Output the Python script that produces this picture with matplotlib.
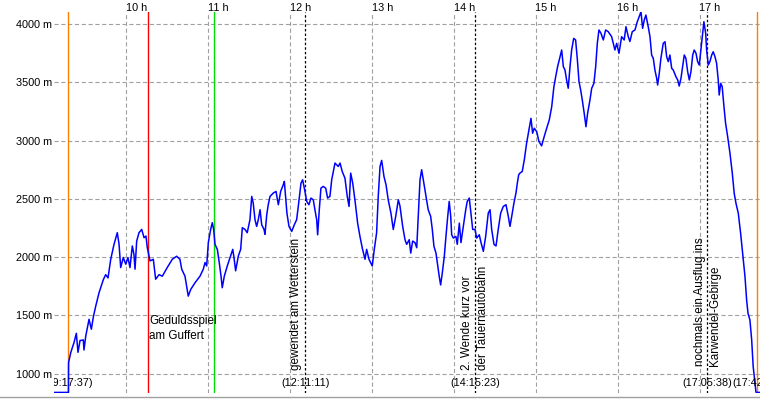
import matplotlib
matplotlib.use("Agg")
import matplotlib.pyplot as plt
from matplotlib.lines import Line2D
import matplotlib.transforms as mtransforms

plt.rcParams['font.family'] = ['Liberation Sans', 'DejaVu Sans']
plt.rcParams['lines.scale_dashes'] = False

# ---- data: minutes after 09:00 and altitude in metres ----
minutes = [
    7.0, 17.6, 17.7, 19.3, 21.7, 23.4, 24.6, 26.1, 28.5, 29.0,
    30.3, 32.7, 34.4, 35.8, 37.6, 40.0, 43.2, 44.9, 46.6, 48.6,
    51.0, 53.4, 54.7, 55.9, 57.8, 59.6, 61.2, 62.7, 64.4, 65.6,
    66.4, 67.6, 69.3, 71.3, 73.0, 74.4, 75.4, 77.4, 79.8, 81.5,
    84.0, 86.4, 90.0, 93.7, 96.9, 99.3, 100.6, 103.0, 104.2, 105.4,
    107.2, 110.3, 114.0, 116.4, 117.7, 118.9, 120.1, 121.8, 123.0, 124.0,
    125.0, 126.7, 128.1, 129.4, 130.3, 131.8, 134.0, 136.0, 138.0, 138.9,
    140.1, 142.1, 143.8, 145.0, 147.0, 148.6, 150.6, 151.9, 153.0, 154.3,
    155.5, 156.7, 158.0, 159.2, 160.9, 161.6, 162.9, 164.0, 165.3, 167.7,
    169.7, 171.4, 173.1, 175.0, 175.8, 176.6, 177.7, 179.2, 181.2, 183.1,
    184.8, 186.0, 188.0, 189.2, 190.9, 192.2, 193.8, 195.3, 197.0, 198.2,
    199.5, 200.2, 201.4, 202.6, 204.3, 206.1, 207.5, 209.2, 210.5, 212.9,
    215.3, 216.6, 218.2, 220.2, 221.9, 223.2, 224.4, 225.9, 227.5, 229.5,
    231.2, 232.9, 234.9, 236.1, 237.8, 240.2, 241.7, 243.4, 244.6, 245.9,
    247.1, 248.8, 250.3, 251.9, 253.9, 255.6, 257.4, 259.3, 260.5, 262.5,
    264.2, 265.4, 267.3, 268.4, 269.8, 271.5, 272.8, 273.9, 275.2, 276.4,
    277.6, 279.6, 281.2, 283.0, 284.2, 285.4, 286.9, 288.1, 289.3, 290.3,
    291.5, 293.0, 294.2, 295.5, 296.6, 297.7, 298.4, 299.6, 301.5, 302.5,
    304.0, 305.2, 306.9, 308.7, 309.8, 311.3, 312.5, 313.8, 315.5, 316.7,
    318.6, 319.9, 321.6, 323.3, 325.2, 326.5, 327.7, 329.4, 330.9, 332.5,
    334.3, 336.2, 338.2, 339.9, 341.1, 342.4, 344.0, 345.5, 346.5, 347.5,
    348.4, 350.1, 351.6, 353.3, 355.0, 356.5, 357.7, 358.9, 360.7, 362.3,
    364.3, 366.2, 368.0, 369.9, 371.7, 373.3, 374.6, 376.0, 377.2, 379.0,
    380.2, 381.4, 382.6, 383.8, 385.1, 386.3, 387.8, 389.2, 390.4, 391.7,
    392.9, 394.1, 395.5, 396.8, 398.0, 399.7, 401.0, 402.6, 403.9, 405.1,
    406.3, 407.8, 409.5, 411.2, 413.1, 415.6, 418.0, 419.3, 421.0, 422.9,
    424.8, 426.1, 427.8, 429.0, 430.7, 432.7, 434.4, 435.8, 437.1, 438.3,
    439.5, 440.7, 442.4, 443.7, 444.9, 446.1, 447.3, 448.6, 449.3, 450.5,
    451.7, 453.4, 454.7, 455.9, 457.1, 458.3, 459.6, 460.7, 462.7, 464.0,
    465.1, 466.4, 467.6, 468.8, 470.0, 471.3, 472.5, 473.7, 475.0, 476.1,
    477.4, 478.6, 479.8, 481.0, 482.3, 483.2, 484.5, 485.2, 486.4, 487.6,
    488.9, 490.0, 491.3, 492.5, 493.7, 494.4, 495.5, 496.6, 497.9, 499.1,
    500.6, 502.3, 504.0, 505.4, 506.7, 508.4, 510.1, 511.6, 513.3, 514.5,
    515.5, 516.9, 518.2, 519.3, 520.6, 521.3, 521.5, 524.3,
]
altitude = [
    840, 840, 1095, 1182, 1268, 1347, 1184, 1285, 1290, 1204,
    1324, 1467, 1382, 1484, 1580, 1694, 1808, 1850, 1822, 1982,
    2110, 2210, 2110, 1911, 1997, 1940, 1997, 1911, 2096, 2025,
    1897, 2137, 2210, 2238, 2167, 2181, 2081, 1968, 1982, 1811,
    1850, 1837, 1911, 1982, 2008, 1982, 1897, 1837, 1752, 1666,
    1723, 1780, 1837, 1897, 1954, 1925, 2125, 2238, 2296, 2238,
    2110, 2067, 1954, 1837, 1738, 1837, 1925, 1997, 2067, 1997,
    1883, 2011, 2067, 2253, 2238, 2210, 2321, 2521, 2464, 2321,
    2264, 2321, 2407, 2278, 2238, 2196, 2364, 2450, 2521, 2550,
    2564, 2450, 2564, 2621, 2650, 2535, 2377, 2264, 2221, 2278,
    2321, 2435, 2635, 2664, 2564, 2478, 2450, 2507, 2492, 2407,
    2321, 2192, 2407, 2592, 2607, 2592, 2507, 2521, 2664, 2807,
    2778, 2807, 2735, 2678, 2521, 2435, 2721, 2635, 2492, 2292,
    2178, 2078, 1982, 2067, 1982, 1925, 2067, 2210, 2521, 2778,
    2830, 2692, 2621, 2492, 2378, 2238, 2350, 2492, 2440, 2264,
    2150, 2110, 2150, 2035, 2138, 2125, 2081, 2350, 2664, 2750,
    2664, 2521, 2407, 2350, 2238, 2093, 2035, 1933, 1833, 1762,
    1862, 2007, 2178, 2350, 2478, 2350, 2192, 2164, 2178, 2110,
    2292, 2125, 2264, 2407, 2478, 2507, 2378, 2238, 2238, 2164,
    2192, 2125, 2050, 2178, 2378, 2407, 2238, 2110, 2096, 2238,
    2378, 2435, 2450, 2350, 2264, 2350, 2464, 2550, 2635, 2707,
    2721, 2735, 2834, 2978, 3090, 3191, 3063, 3106, 3077, 2993,
    2955, 3035, 3106, 3177, 3291, 3463, 3548, 3634, 3691, 3777,
    3634, 3606, 3520, 3449, 3634, 3777, 3877, 3863, 3706, 3505,
    3434, 3348, 3234, 3119, 3234, 3348, 3449, 3491, 3634, 3834,
    3949, 3920, 3863, 3949, 3934, 3891, 3777, 3834, 3749, 3891,
    3863, 3977, 3891, 3850, 3934, 3949, 4020, 4063, 4106, 3963,
    4034, 4077, 3977, 3891, 3734, 3706, 3606, 3534, 3477, 3577,
    3706, 3834, 3848, 3720, 3677, 3734, 3620, 3606, 3548, 3520,
    3468, 3534, 3634, 3734, 3706, 3591, 3520, 3591, 3734, 3777,
    3749, 3677, 3648, 3777, 3920, 4020, 3920, 3777, 3648, 3677,
    3734, 3762, 3720, 3663, 3520, 3391, 3491, 3463, 3291, 3148,
    3034, 2891, 2720, 2548, 2462, 2377, 2205, 2034, 1833, 1633,
    1519, 1462, 1291, 1062, 920, 848, 840, 840,
]

hour_ticks = [10, 11, 12, 13, 14, 15, 16, 17]
hour_labels = ["10 h", "11 h", "12 h", "13 h", "14 h", "15 h", "16 h", "17 h"]
alt_ticks = [1000, 1500, 2000, 2500, 3000, 3500, 4000]
alt_labels = ["1000 m", "1500 m", "2000 m", "2500 m", "3000 m", "3500 m", "4000 m"]

# coloured markers: (time, colour)
marker_times = ["09:17:37", "10:16:07", "11:04:28", "17:42:14"]
marker_colors = ["#ff8000", "#ff0000", "#00e000", "#ff8000"]

# waypoints with notes
wp_times = ["09:17:37", "12:11:11", "14:15:23", "17:05:38", "17:42:14"]
wp_notes = ["gewendet am Wetterstein",
            "2. Wende kurz vor\nder Tauernautobahn",
            "nochmals ein Ausflug ins\nKarwendel-Gebirge"]
wp_note_times = ["12:11:11", "14:15:23", "17:05:38"]


def to_h(s):
    h, m, sec = (int(v) for v in s.split(":"))
    return h + m / 60 + sec / 3600


hours = [9 + m / 60 for m in minutes]

W, H = 760, 399
fig = plt.figure(figsize=(W / 100, H / 100), dpi=100)
fig.patch.set_facecolor("white")
ax = fig.add_axes([54 / W, 6 / H, 706 / W, 381 / H])
ax.set_xlim(9 + 7.03 / 60, 9 + 524.3 / 60)
ax.set_ylim(835, 4103)
for s in ax.spines.values():
    s.set_visible(False)

grid_kw = dict(color="#a0a0a0", lw=0.8, linestyle=(0, (3.0, 1.9)), zorder=1)
for a in alt_ticks:
    ax.axhline(a, **grid_kw)
for h in hour_ticks:
    ax.axvline(h, **grid_kw)

ax.set_yticks(alt_ticks)
ax.set_yticklabels(alt_labels)
ax.set_xticks([])
ax.tick_params(axis="y", length=0, pad=1.5, labelsize=7.8)

trans = mtransforms.blended_transform_factory(ax.transData, ax.transAxes)
for h, lab in zip(hour_ticks, hour_labels):
    ax.text(h - 0.004, 1.0105, lab, transform=trans, ha="left", va="center",
            fontsize=7.8, clip_on=False)

# coloured vertical markers
for t, c in zip(marker_times, marker_colors):
    ax.axvline(to_h(t), color=c, lw=1.0, zorder=2)

# black dotted waypoint lines
for t in wp_note_times:
    ax.axvline(to_h(t), color="black", lw=0.9, linestyle=(0, (1.8, 1.5)), zorder=2)

# profile
ax.plot(hours, altitude, color="#0000ff", lw=1.1, zorder=3)

# time labels at bottom
for t in wp_times:
    ax.text(to_h(t), 0.026, "(" + t + ")", transform=trans, ha="center",
            va="center", fontsize=7.8, clip_on=True, zorder=4)

# notes
ax.text(to_h("10:16:07") + 0.008, 1500, "Geduldsspiel\nam Guffert", ha="left", va="top",
        fontsize=8.4, linespacing=1.3, zorder=4)
ax.text(to_h("12:11:11") - 0.11, 1033, wp_notes[0], rotation=90, ha="center",
        va="bottom", fontsize=8.4, zorder=4)
ax.text(to_h("14:15:23"), 1033, wp_notes[1], rotation=90, ha="center", va="bottom",
        multialignment="left", fontsize=8.4, linespacing=1.38, zorder=4)
ax.text(to_h("17:05:38"), 1070, wp_notes[2], rotation=90, ha="center", va="bottom",
        multialignment="left", fontsize=8.4, linespacing=1.38, zorder=4)

fig.add_artist(Line2D([0, 1], [2.5 / H, 2.5 / H], transform=fig.transFigure,
                      color="#a0a0a0", lw=1.0))

fig.savefig("out.png", dpi=100, facecolor="white")
